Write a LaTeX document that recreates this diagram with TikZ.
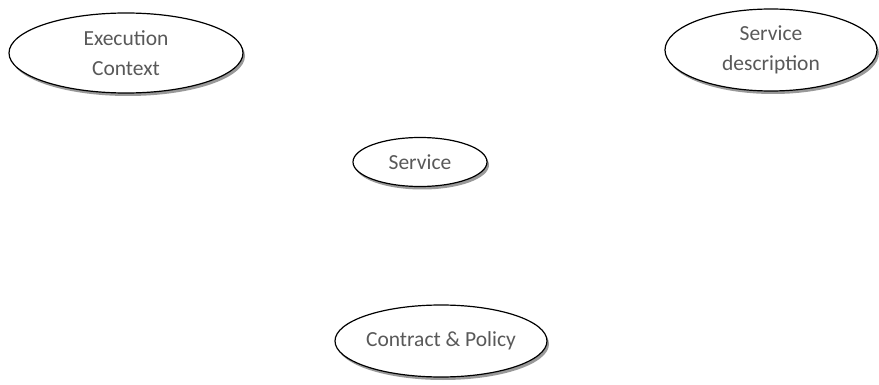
\documentclass[tikz,border=0pt]{standalone}
\usepackage{fontspec}
\setmainfont{Carlito}
\usetikzlibrary{shapes.geometric,shadows}
\begin{document}
\begin{tikzpicture}[x=1pt,y=-1pt,
  concept/.style={ellipse, draw=black, line width=1.2pt, fill=white, inner sep=0pt,
    font=\fontsize{21.5}{30}\selectfont, text=black!65, align=center,
    drop shadow={shadow xshift=2pt, shadow yshift=-3pt, opacity=0.5, fill=black!80}}]
\useasboundingbox (0,0) rectangle (879,385);
\node[concept, minimum width=234, minimum height=80] (exec) at (126,53) {Execution\\Context};
\node[concept, minimum width=212, minimum height=82] (desc) at (771,50) {Service\\description};
\node[concept, minimum width=134, minimum height=49] (svc) at (420,162) {Service};
\node[concept, minimum width=212, minimum height=72] (contract) at (441,341) {Contract \& Policy};
\end{tikzpicture}
\end{document}
